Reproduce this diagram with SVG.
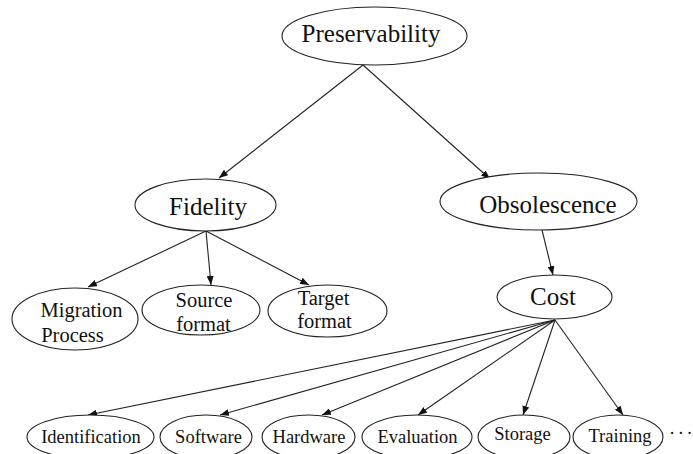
<svg xmlns="http://www.w3.org/2000/svg" width="693" height="454" viewBox="0 0 693 454">
<style>
  .n ellipse { fill: #fff; stroke: #222; stroke-width: 1.1; }
  .n text { font-family: "Liberation Serif", "DejaVu Serif", "Times New Roman", serif; fill: #111; text-anchor: middle; }
  .l1 text { font-size: 25px; }
  .l2 text { font-size: 20.5px; }
  .l3 text { font-size: 18.5px; }
  #edges line { stroke: #222; stroke-width: 1.1; marker-end: url(#arr); }
  .dots { font-family: "Liberation Serif", "DejaVu Serif", serif; font-size: 18.5px; fill: #111; letter-spacing: -1px; }
</style>
<defs>
  <marker id="arr" markerUnits="userSpaceOnUse" markerWidth="9" markerHeight="7" viewBox="0 0 9 7" refX="9" refY="3.5" orient="auto">
    <path d="M0,0 L9,3.5 L0,7 Z" fill="#111"/>
  </marker>
</defs>
<rect width="693" height="454" fill="#fff"/>
<g id="edges">
  <line x1="363" y1="65" x2="219" y2="178"/>
  <line x1="363" y1="65" x2="490" y2="179"/>
  <line x1="206" y1="231" x2="88" y2="287"/>
  <line x1="206" y1="231" x2="211" y2="285"/>
  <line x1="206" y1="231" x2="309" y2="285"/>
  <line x1="542" y1="230" x2="553" y2="275"/>
  <line x1="555" y1="320" x2="88" y2="415"/>
  <line x1="555" y1="320" x2="220" y2="415"/>
  <line x1="555" y1="320" x2="322" y2="415"/>
  <line x1="555" y1="320" x2="418" y2="415"/>
  <line x1="555" y1="320" x2="523" y2="415"/>
  <line x1="555" y1="320" x2="623" y2="415"/>
</g>
<g id="preservability" class="n l1">
  <ellipse cx="374.5" cy="36" rx="92.5" ry="29"/>
  <text x="371" y="42">Preservability</text>
</g>
<g id="fidelity" class="n l1">
  <ellipse cx="205.5" cy="205" rx="70.5" ry="26"/>
  <text x="208" y="215">Fidelity</text>
</g>
<g id="obsolescence" class="n l1">
  <ellipse cx="538.5" cy="201.5" rx="98.5" ry="28.5"/>
  <text x="548" y="213">Obsolescence</text>
</g>
<g id="cost" class="n l1">
  <ellipse cx="554.5" cy="297" rx="57.5" ry="22"/>
  <text x="553" y="305">Cost</text>
</g>
<g id="migration" class="n l2">
  <ellipse cx="75" cy="319" rx="63" ry="31"/>
  <text x="81.5" y="317">Migration</text>
  <text x="72.5" y="342">Process</text>
</g>
<g id="source" class="n l2">
  <ellipse cx="201" cy="310" rx="59" ry="25"/>
  <text x="204" y="307">Source</text>
  <text x="203.5" y="331">format</text>
</g>
<g id="target" class="n l2">
  <ellipse cx="327.5" cy="311" rx="59.5" ry="26"/>
  <text x="323.5" y="305">Target</text>
  <text x="324.5" y="328">format</text>
</g>
<g id="identification" class="n l3">
  <ellipse cx="90.5" cy="437" rx="63.5" ry="22"/>
  <text x="91" y="443">Identification</text>
</g>
<g id="software" class="n l3">
  <ellipse cx="206" cy="437" rx="46" ry="22"/>
  <text x="208.5" y="443">Software</text>
</g>
<g id="hardware" class="n l3">
  <ellipse cx="308.5" cy="437" rx="46.5" ry="22"/>
  <text x="309" y="443">Hardware</text>
</g>
<g id="evaluation" class="n l3">
  <ellipse cx="417" cy="437" rx="55" ry="22"/>
  <text x="417.5" y="443">Evaluation</text>
</g>
<g id="storage" class="n l3">
  <ellipse cx="524" cy="437" rx="46" ry="22"/>
  <text x="522.5" y="440">Storage</text>
</g>
<g id="training" class="n l3">
  <ellipse cx="618" cy="437" rx="45" ry="22"/>
  <text x="620" y="442">Training</text>
</g>
<text class="dots" x="669" y="439">· · ·</text>
</svg>
